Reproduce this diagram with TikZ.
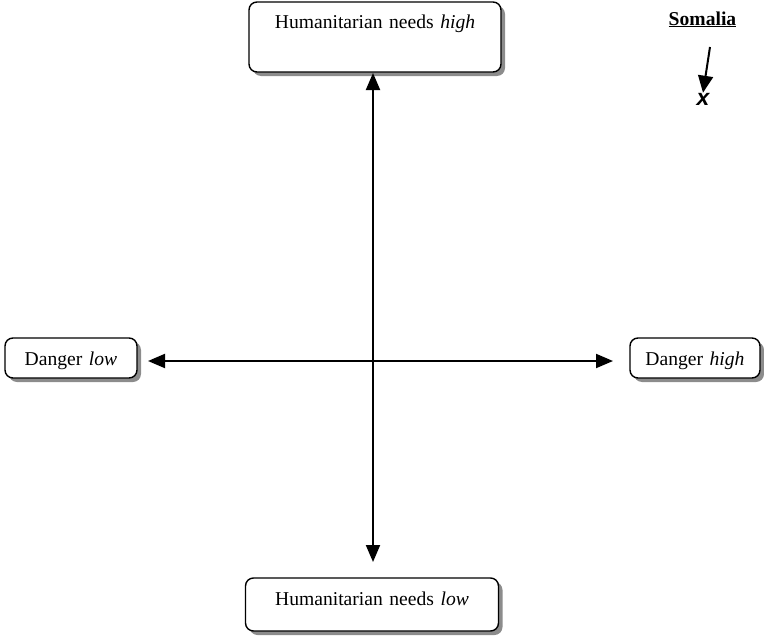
\documentclass[tikz,border=0pt]{standalone}
\usepackage{fontspec}
\setmainfont{Liberation Serif}
\setsansfont{Liberation Sans}
\usetikzlibrary{arrows.meta,shadows}
\tikzset{
  box/.style={draw=black, line width=1.4pt, rounded corners=8pt, fill=white,
    inner sep=0pt, align=center, font=\fontsize{19.6}{22}\selectfont,
    drop shadow={shadow xshift=4pt, shadow yshift=-4pt, fill=black!45, opacity=1}},
  axis/.style={line width=2pt, {Triangle[length=17pt,width=14pt]}-{Triangle[length=17pt,width=14pt]}},
  pointer/.style={line width=2pt, -{Triangle[length=17pt,width=15pt]}}
}
\begin{document}
\begin{tikzpicture}[x=1pt,y=-1pt]
\useasboundingbox (0,0) rectangle (764,637);
\node[box, text width=252pt, text height=26pt, text depth=44pt] (top) at (375,37) {Humanitarian needs \textit{high}};
\node[box, text width=253pt, text height=27pt, text depth=26pt] (bot) at (372,604.5) {Humanitarian needs \textit{low}};
\node[box, text width=132pt, text height=27pt, text depth=13pt] (dlow) at (71,358) {Danger \textit{low}};
\node[box, text width=130pt, text height=27pt, text depth=13pt] (dhigh) at (695,358) {Danger \textit{high}};
\coordinate (vt) at (373,73);
\coordinate (vb) at (373,562);
\coordinate (hl) at (148,361);
\coordinate (hr) at (613,361);
\draw[axis] (vt) -- (vb);
\draw[axis] (hl) -- (hr);
\node[font=\fontsize{19.6}{22}\selectfont\bfseries, anchor=base, inner sep=0pt] (som) at (702.5,25) {\underline{Somalia}};
\node[font=\fontsize{23}{25}\selectfont\sffamily\bfseries\itshape, inner sep=0pt] (xm) at (703,99) {x};
\coordinate (ps) at (710,47);
\draw[pointer] (ps) -- (xm.north);
\end{tikzpicture}
\end{document}
